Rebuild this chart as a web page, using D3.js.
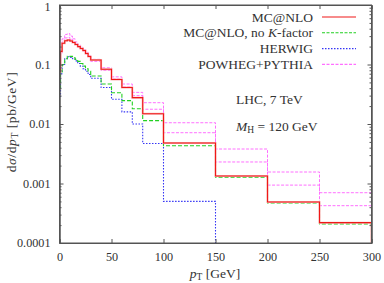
<!DOCTYPE html>
<html>
<head>
<meta charset="utf-8">
<script src="https://cdn.jsdelivr.net/npm/d3@7"></script>
<style>
  body { margin: 0; background: #fff; }
  svg text { font-family: "Liberation Serif", "DejaVu Serif", serif; fill: #333; }
</style>
</head>
<body>
<div id="chart"></div>
<script>
// bin edges in pT [GeV]
let edges = [0, 1, 2.5, 5, 7.5, 10, 12.5, 15, 17.5, 20, 22.5, 25, 27.5, 30, 40, 50, 60, 70, 80, 100, 150, 200, 250, 300];

let mcnlo = [0.076, 0.166, 0.227, 0.251, 0.258, 0.248, 0.234, 0.217, 0.2, 0.186, 0.172, 0.153, 0.136,
    0.119, 0.083, 0.056, 0.041, 0.0277, 0.0149, 0.0048, 0.00134, 0.00049, 0.00022];
let mcnloNoK = [0.04, 0.075, 0.1, 0.125, 0.138, 0.137, 0.13, 0.122, 0.113, 0.104, 0.094, 0.085, 0.077,
    0.064, 0.047, 0.0336, 0.0247, 0.018, 0.0114, 0.00432, 0.00128, 0.00047, 0.00021];
let herwig = [0.029, 0.07, 0.1, 0.125, 0.135, 0.132, 0.125, 0.115, 0.104, 0.094, 0.085, 0.077, 0.068,
    0.0586, 0.041, 0.026, 0.016, 0.01, 0.0047, 0.0005, 0, 0, 0];
let powhegHi = [0.07, 0.17, 0.27, 0.32, 0.33, 0.30, 0.27, 0.24, 0.215, 0.195, 0.178, 0.16, 0.142,
    0.122, 0.088, 0.062, 0.047, 0.034, 0.0228, 0.0105, 0.0038, 0.00156, 0.0007];
let powhegLo = [0.06, 0.15, 0.24, 0.28, 0.285, 0.265, 0.24, 0.22, 0.2, 0.183, 0.168, 0.15, 0.133,
    0.113, 0.08, 0.057, 0.042, 0.03, 0.0177, 0.00714, 0.0023, 0.00094, 0.000424];

let xTicks = [0, 50, 100, 150, 200, 250, 300];
let yTicks = [0.0001, 0.001, 0.01, 0.1, 1];
let yTickLabels = ["0.0001", "0.001", "0.01", "0.1", "1"];

let legendNames = ["MC@NLO", "MC@NLO, no K-factor", "HERWIG", "POWHEG+PYTHIA"];

let W = 384, H = 283;
let box = {left: 59.5, right: 371.5, top: 5, bottom: 243};
let fs = 13.5;

let svg = d3.select('#chart').append('svg')
    .attr('width', W).attr('height', H);

let x = d3.scaleLinear().domain([0, 300]).range([box.left, box.right]);
let y = d3.scaleLog().domain([1e-4, 1]).range([box.bottom, box.top]);

svg.append('clipPath').attr('id', 'clip')
    .append('rect')
    .attr('x', box.left).attr('y', box.top)
    .attr('width', box.right - box.left).attr('height', box.bottom - box.top);

// step line through the bins, dropping to zero after the last bin
function stepPath(vals) {
    let pts = vals.map(function (v, i) { return [edges[i], v]; });
    pts.push([edges[edges.length - 1], vals[vals.length - 1]]);
    pts.push([edges[edges.length - 1], 0]);
    return d3.line()
        .x(function (d) { return x(d[0]); })
        .y(function (d) { return y(Math.max(d[1], 1e-6)); })
        .curve(d3.curveStepAfter)(pts);
}

let series = [
    {vals: powhegHi, color: '#ff70ff', dash: '3,1.5', w: 1},
    {vals: powhegLo, color: '#ff70ff', dash: '3,1.5', w: 1},
    {vals: herwig, color: '#3535f5', dash: '1.5,1.5', w: 1.1},
    {vals: mcnloNoK, color: '#22d022', dash: '4,2', w: 1.1},
    {vals: mcnlo, color: '#f7b4b4', dash: null, w: 2},
    {vals: mcnlo, color: '#f01818', dash: null, w: 1.1}
];

let plot = svg.append('g').attr('clip-path', 'url(#clip)');
series.forEach(function (s) {
    plot.append('path')
        .attr('d', stepPath(s.vals))
        .attr('fill', 'none')
        .attr('stroke', s.color)
        .attr('stroke-width', s.w)
        .attr('stroke-dasharray', s.dash);
});

// axes, ticks pointing inward and mirrored
let minor = [];
for (let e = -4; e < 0; e++) {
    for (let k = 2; k <= 9; k++) minor.push(k * Math.pow(10, e));
}

svg.append('g')
    .attr('transform', 'translate(0,' + box.bottom + ')')
    .call(d3.axisBottom(x).tickValues(xTicks).tickSize(-4).tickPadding(9).tickFormat(d3.format('d')));
svg.append('g')
    .attr('transform', 'translate(0,' + box.top + ')')
    .call(d3.axisTop(x).tickValues(xTicks).tickSize(-4).tickFormat(''));

let yAxis = svg.append('g')
    .attr('transform', 'translate(' + box.left + ',0)')
    .call(d3.axisLeft(y).tickValues(yTicks).tickSize(-4).tickPadding(9)
        .tickFormat(function (d, i) { return yTickLabels[i]; }));
svg.append('g')
    .attr('transform', 'translate(' + box.right + ',0)')
    .call(d3.axisRight(y).tickValues(yTicks).tickSize(-4).tickFormat(''));
svg.append('g')
    .attr('transform', 'translate(' + box.left + ',0)')
    .call(d3.axisLeft(y).tickValues(minor).tickSize(-2).tickFormat(''));
svg.append('g')
    .attr('transform', 'translate(' + box.right + ',0)')
    .call(d3.axisRight(y).tickValues(minor).tickSize(-2).tickFormat(''));

svg.selectAll('.domain').attr('stroke', '#555');
svg.selectAll('.tick line').attr('stroke', '#555');
svg.selectAll('.tick text')
    .attr('font-size', 12.2)
    .attr('font-family', '"Liberation Serif", serif')
    .attr('fill', '#333');

// keep the top label "1" inside the picture
yAxis.selectAll('.tick text')
    .filter(function (d) { return d === 1; })
    .attr('dy', '0.45em');

svg.append('rect')
    .attr('x', box.left).attr('y', box.top)
    .attr('width', box.right - box.left).attr('height', box.bottom - box.top)
    .attr('fill', 'none').attr('stroke', '#555').attr('stroke-width', 1);

// axis titles
let xt = svg.append('text')
    .attr('x', 215).attr('y', 278)
    .attr('text-anchor', 'middle')
    .attr('font-size', fs);
xt.append('tspan').attr('font-style', 'italic').text('p');
xt.append('tspan').attr('font-size', 9.5).attr('dy', 2).text('T');
xt.append('tspan').attr('dy', -2).text(' [GeV]');

let yt = svg.append('text')
    .attr('transform', 'translate(16,122) rotate(-90)')
    .attr('text-anchor', 'middle')
    .attr('letter-spacing', 0.6)
    .attr('font-size', fs);
yt.append('tspan').text('d');
yt.append('tspan').attr('font-style', 'italic').text('σ');
yt.append('tspan').text('/d');
yt.append('tspan').attr('font-style', 'italic').text('p');
yt.append('tspan').attr('font-size', 9.5).attr('dy', 2).text('T');
yt.append('tspan').attr('dy', -2).text(' [pb/GeV]');

// legend
let legendStyle = [
    {color: '#f01818', dash: null},
    {color: '#22d022', dash: '3,1.5'},
    {color: '#3535f5', dash: '1.5,1.5'},
    {color: '#ff70ff', dash: '3,1.5'}
];
legendNames.forEach(function (name, i) {
    let ly = 17 + i * 15.8;
    let t = svg.append('text')
        .attr('x', 313).attr('y', ly + 4.5)
        .attr('text-anchor', 'end')
        .attr('font-size', fs);
    if (i === 1) {
        t.append('tspan').text('MC@NLO, no ');
        t.append('tspan').attr('font-style', 'italic').text('K');
        t.append('tspan').text('-factor');
    } else {
        t.text(name);
    }
    svg.append('line')
        .attr('x1', 322).attr('x2', 356)
        .attr('y1', ly).attr('y2', ly)
        .attr('stroke', legendStyle[i].color)
        .attr('stroke-width', 1.1)
        .attr('stroke-dasharray', legendStyle[i].dash);
});

svg.append('text')
    .attr('x', 236).attr('y', 104)
    .attr('font-size', fs)
    .text('LHC, 7 TeV');

let mh = svg.append('text')
    .attr('x', 236).attr('y', 131)
    .attr('font-size', fs);
mh.append('tspan').attr('font-style', 'italic').text('M');
mh.append('tspan').attr('font-size', 9.5).attr('dy', 2).text('H');
mh.append('tspan').attr('dy', -2).text(' = 120 GeV');
</script>
</body>
</html>
